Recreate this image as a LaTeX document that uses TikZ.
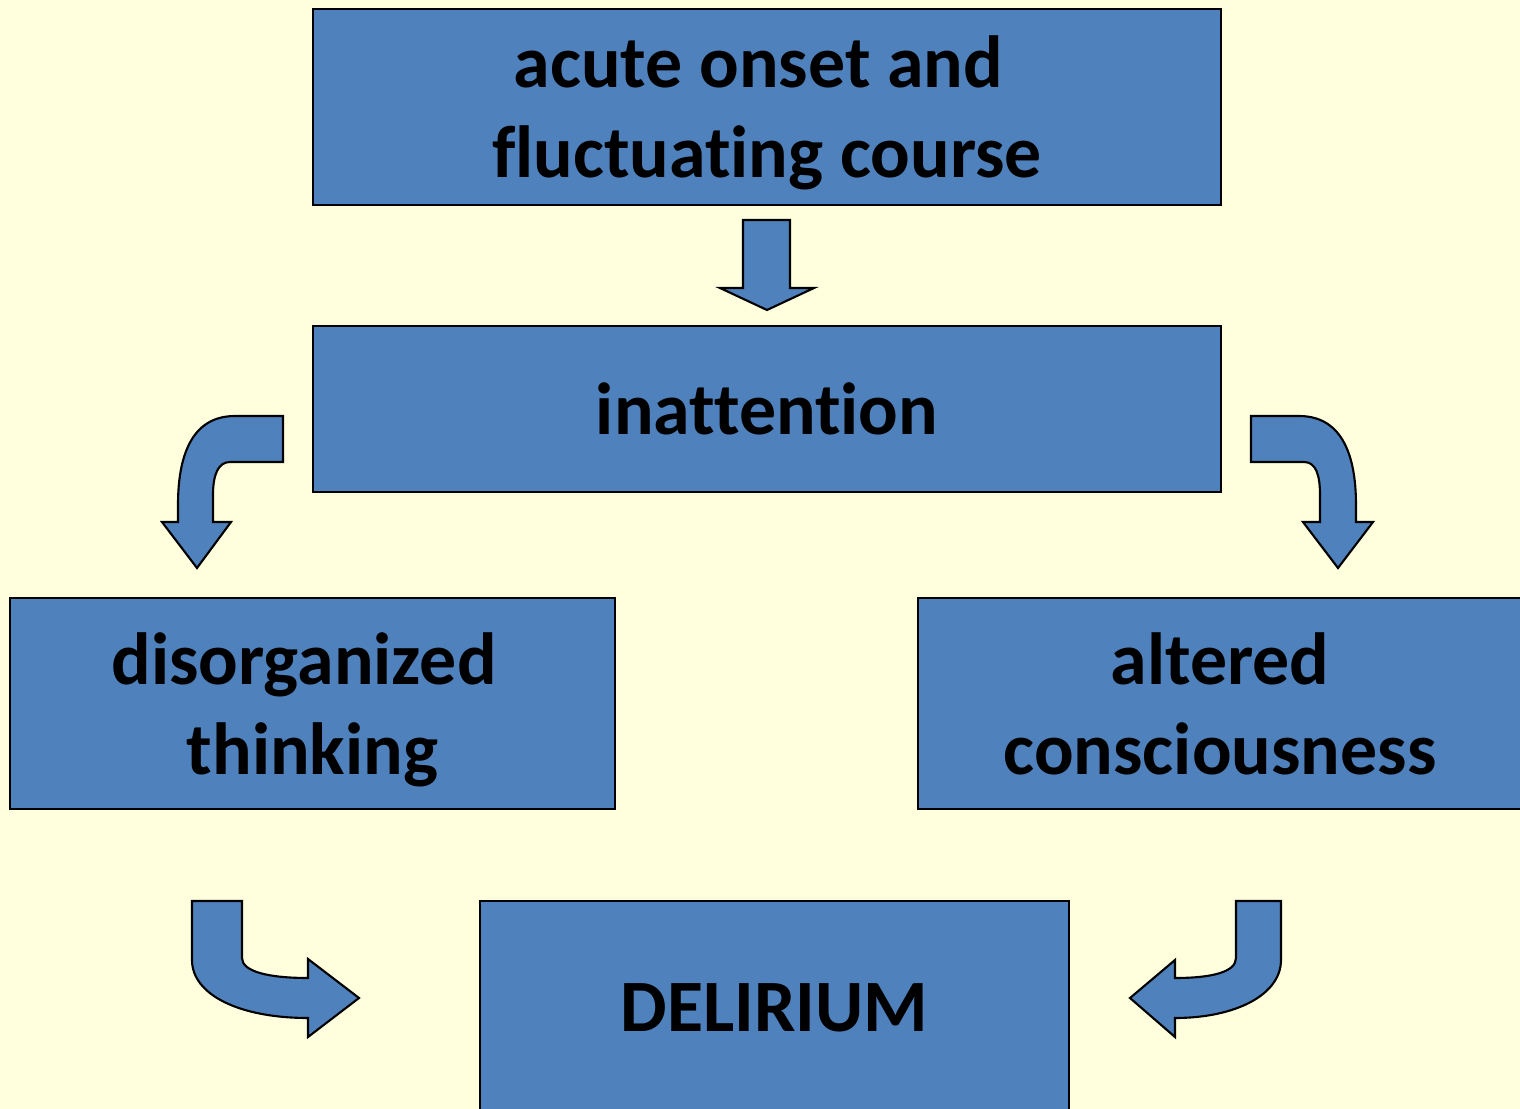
\documentclass[tikz,border=0pt]{standalone}
\usepackage{fontspec}
\setmainfont{Carlito}[Ligatures=NoCommon]
\usepackage{tikz}
\usepackage{xcolor}
\definecolor{bgyellow}{RGB}{255,255,221}
\definecolor{boxblue}{RGB}{79,129,189}

\begin{document}
\begin{tikzpicture}[x=0.01cm, y=-0.01cm,
    box/.style={draw=black, fill=boxblue, line width=0.6pt, inner sep=0pt,
        align=center, text depth=0pt, font=\fontsize{21}{25.6}\selectfont\bfseries},
    blockarrow/.style={draw=black, fill=boxblue, line width=0.6pt, line join=miter}]
    \useasboundingbox (0,0) rectangle (1520,1109);
    \clip (0,0) rectangle (1520,1109);
    \fill[bgyellow] (0,0) rectangle (1520,1109);
    % boxes
    \node[box, minimum width=9.08cm, minimum height=1.96cm] (onset) at (767,107)
        {acute onset and\kern.23em\\fluctuating course};
    \node[box, minimum width=9.08cm, minimum height=1.66cm] (inatt) at (767,409)
        {inattention};
    \node[box, minimum width=6.05cm, minimum height=2.11cm] (disorg) at (312.5,703.5)
        {disorganized\kern.23em\\thinking};
    \node[box, minimum width=6.04cm, minimum height=2.11cm] (altered) at (1220,703.5)
        {altered\\consciousness};
    \node[box, minimum width=5.89cm, minimum height=2.14cm] (delir) at (774.5,1008)
        {DELIRIUM};
    % straight arrow
    \draw[blockarrow] (743,220) -- (790,220) -- (790,288) -- (814,288) -- (767,310)
        -- (720,288) -- (743,288) -- cycle;
    % curved arrows, top
    \draw[blockarrow] (283,416) -- (235,416) .. controls (195,416) and (178,450) .. (178,505)
        -- (178,522) -- (162,522) -- (197,568) -- (231,522) -- (213,522) -- (213,495)
        .. controls (213,475) and (218,462) .. (230,462) -- (283,462) -- cycle;
    \draw[blockarrow] (1251,416) -- (1299,416) .. controls (1339,416) and (1356,450) .. (1356,505)
        -- (1356,522) -- (1373,522) -- (1338,568) -- (1303,522) -- (1320,522) -- (1320,495)
        .. controls (1320,475) and (1316,462) .. (1304,462) -- (1251,462) -- cycle;
    % curved arrows, bottom
    \draw[blockarrow] (192,901) -- (242,901) -- (242,958) .. controls (242,972) and (270,978) .. (308,978)
        -- (308,959) -- (359,998) -- (308,1037) -- (308,1018)
        .. controls (240,1018) and (192,995) .. (192,960) -- cycle;
    \draw[blockarrow] (1281,901) -- (1236,901) -- (1236,958) .. controls (1236,972) and (1212,978) .. (1175,978)
        -- (1175,960) -- (1130,998) -- (1175,1037) -- (1175,1018)
        .. controls (1235,1018) and (1281,995) .. (1281,960) -- cycle;
\end{tikzpicture}
\end{document}
